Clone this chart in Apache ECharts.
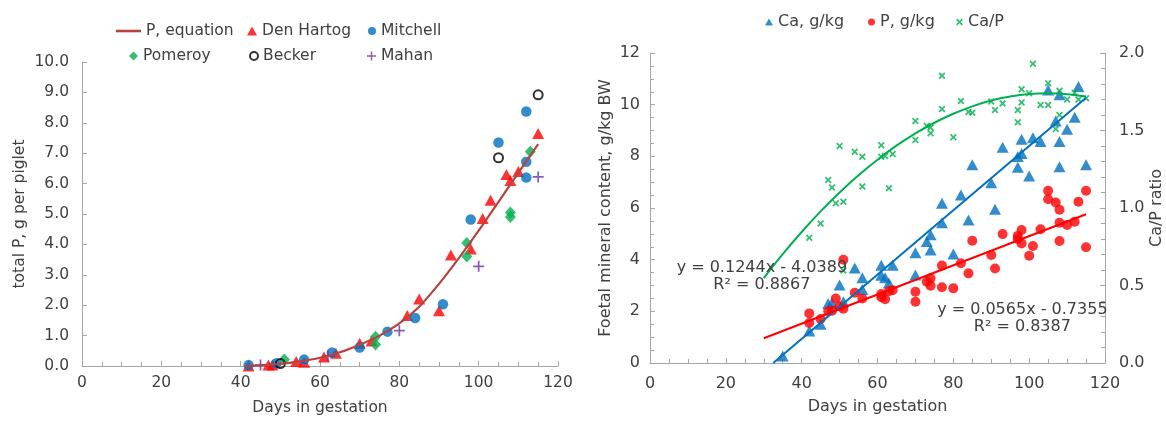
<!DOCTYPE html>
<html>
<head>
<meta charset="utf-8">
<script src="https://cdn.jsdelivr.net/npm/echarts@6/dist/echarts.min.js"></script>
<style>
  html, body { margin: 0; padding: 0; background: #ffffff; }
  #chart { width: 1166px; height: 426px; }
</style>
</head>
<body>
<div id="chart"></div>
<script>
// ---------- Left panel: total P per piglet vs days in gestation ----------
const pCurveDays   = [41, 45, 50, 55, 60, 65, 70, 75, 80, 85, 90, 95, 100, 105, 110, 115];
const pCurveValues = [0, 0.02, 0.07, 0.15, 0.27, 0.45, 0.7, 1.0, 1.4, 1.95, 2.7, 3.55, 4.45, 5.4, 6.35, 7.3];

const denHartog = [[42, 0.0], [47, 0.03], [48, 0.03], [54, 0.15], [56, 0.12], [61, 0.3], [64, 0.42],
  [70, 0.75], [73, 0.82], [82, 1.66], [85, 2.2], [90, 1.82], [93, 3.65], [98, 3.85], [101, 4.85],
  [103, 5.45], [107, 6.3], [108, 6.1], [110, 6.4], [115, 7.65]];
const mitchell = [[42, 0.03], [49, 0.09], [56, 0.21], [63, 0.44], [70, 0.61], [77, 1.13], [84, 1.58],
  [91, 2.03], [98, 4.82], [105, 7.35], [112, 8.37], [112, 6.72], [112, 6.2]];
const pomeroy = [[51, 0.21], [74, 0.96], [74, 0.71], [97, 4.05], [97, 3.6], [108, 5.05], [108, 4.9], [113, 7.05]];
const becker = [[50, 0.08], [105, 6.85], [115, 8.92]];
const mahan = [[45, 0.03], [62, 0.33], [80, 1.16], [100, 3.28], [115, 6.22]];

// ---------- Right panel: foetal Ca, P (g/kg BW) and Ca/P ratio ----------
const caPoints = [[35, 0.27], [42, 1.24], [45, 1.5], [47, 2.3], [48, 2.32], [50, 3.02], [51, 2.37],
  [54, 3.68], [56, 3.3], [56, 2.85], [61, 3.78], [61, 3.4], [62, 3.3], [63, 3.1], [64, 3.78],
  [70, 4.27], [70, 3.41], [73, 4.7], [74, 4.96], [74, 4.37], [77, 5.43], [77, 6.18], [80, 4.22],
  [82, 6.5], [84, 5.54], [85, 7.67], [90, 6.98], [91, 5.95], [93, 8.35], [97, 7.99], [97, 7.58],
  [98, 8.11], [98, 8.66], [100, 7.24], [101, 8.72], [103, 8.57], [105, 10.57], [107, 9.37],
  [108, 10.38], [108, 8.57], [108, 7.6], [110, 9.05], [112, 9.51], [113, 10.7], [115, 7.67]];
const pPoints = [[42, 1.92], [42, 1.55], [45, 1.7], [47, 2.0], [48, 2.02], [49, 2.5], [50, 2.2],
  [51, 2.1], [51, 4.0], [54, 2.72], [56, 2.5], [61, 2.67], [61, 2.55], [62, 2.47], [63, 2.78],
  [64, 2.82], [70, 2.76], [70, 2.37], [73, 3.15], [74, 3.28], [74, 2.99], [77, 3.77], [77, 2.93],
  [80, 2.89], [82, 3.86], [84, 3.47], [85, 4.73], [90, 4.18], [91, 3.66], [93, 4.99], [97, 4.92],
  [97, 4.8], [98, 5.15], [98, 4.63], [100, 4.15], [101, 4.53], [103, 5.18], [105, 6.67], [105, 6.34],
  [107, 6.21], [108, 5.93], [108, 5.43], [108, 4.72], [110, 5.34], [112, 5.47], [113, 6.24],
  [115, 6.67], [115, 4.48]];
const caPRatio = [[42, 0.808], [45, 0.9], [47, 1.18], [48, 1.133], [49, 1.03], [50, 1.4], [51, 1.04],
  [51, 0.596], [54, 1.363], [56, 1.331], [56, 1.138], [61, 1.405], [61, 1.331], [62, 1.335],
  [63, 1.127], [64, 1.349], [70, 1.562], [70, 1.439], [73, 1.53], [74, 1.52], [74, 1.482],
  [77, 1.854], [77, 1.639], [80, 1.456], [82, 1.69], [84, 1.62], [85, 1.615], [90, 1.687],
  [91, 1.632], [93, 1.675], [97, 1.632], [97, 1.553], [98, 1.766], [98, 1.68], [100, 1.74],
  [101, 1.93], [103, 1.665], [105, 1.805], [105, 1.665], [107, 1.51], [108, 1.757], [108, 1.6],
  [110, 1.7], [112, 1.743], [113, 1.7], [115, 1.708]];

// Linear trend lines (end points from the printed equations)
const caTrend = [[32.5, 0], [115, 10.27]];
const pTrend = [[30, 0.96], [115, 5.76]];
const caTrendText = 'y = 0.1244x - 4.0389\nR² = 0.8867';
const pTrendText = 'y = 0.0565x - 0.7355\nR² = 0.8387';
const caTrendLabelAt = [29.5, 3.37];
const pTrendLabelAt = [98.2, 1.71];

// Polynomial trend of the Ca/P ratio
const ratioTrendDays   = [30, 35, 40, 45, 50, 55, 60, 65, 70, 75, 80, 85, 90, 95, 100, 105, 110, 115];
const ratioTrendValues = [0.548, 0.702, 0.845, 0.978, 1.1, 1.211, 1.311, 1.402, 1.481, 1.55, 1.608,
  1.656, 1.693, 1.719, 1.735, 1.74, 1.734, 1.719];

// Tick labels
const xTicks = [0, 20, 40, 60, 80, 100, 120];
const leftYTicks = [0, 1, 2, 3, 4, 5, 6, 7, 8, 9, 10];
const rightYTicks = [0, 2, 4, 6, 8, 10, 12];
const ratioTicks = [0, 0.5, 1.0, 1.5, 2.0];

const zip = (xs, ys) => xs.map((x, i) => [x, ys[i]]);

const FONT = 'DejaVu Sans';
const TXT = '#404040';
const AXIS = '#a6a6a6';
const PLUS = 'path://M4.2,0H5.8V4.2H10V5.8H5.8V10H4.2V5.8H0V4.2H4.2Z';
const CROSS = 'path://M0,1.8L1.8,0L5,3.2L8.2,0L10,1.8L6.8,5L10,8.2L8.2,10L5,6.8L1.8,10L0,8.2L3.2,5Z';
const LINE_ICON = 'path://M0,0H25V2.6H0Z';

function axisBase(fs, min, max, interval, dec, minorSplit, labelMargin) {
  return {
    type: 'value', min: min, max: max, interval: interval,
    axisLine: { show: true, lineStyle: { color: AXIS, width: 1 } },
    axisTick: { show: true, inside: true, length: 5, lineStyle: { color: AXIS } },
    minorTick: { show: minorSplit > 0, splitNumber: minorSplit || 5, length: 4, lineStyle: { color: AXIS } },
    splitLine: { show: false },
    axisLabel: {
      color: TXT, fontSize: fs, fontFamily: FONT, margin: labelMargin,
      formatter: v => dec ? v.toFixed(dec) : String(v)
    },
    nameTextStyle: { color: TXT, fontSize: fs, fontFamily: FONT }
  };
}

function legendItem(name, icon, left, top, w, h, fs) {
  return {
    left: left, top: top, padding: 0, itemWidth: w, itemHeight: h, selectedMode: false,
    textStyle: { color: TXT, fontSize: fs, fontFamily: FONT, lineHeight: 18 },
    data: [icon ? { name: name, icon: icon } : { name: name }]
  };
}

const chart = echarts.init(document.getElementById('chart'), null, { renderer: 'canvas' });

chart.setOption({
  animation: false,
  backgroundColor: '#ffffff',
  grid: [
    { left: 82, top: 62, width: 476, height: 304 },
    { left: 650, top: 53, width: 457, height: 310 }
  ],
  legend: [
    legendItem('P, equation', LINE_ICON, 116, 22, 25, 3, 15.5),
    legendItem('Den Hartog', 'triangle', 247, 22, 10, 9, 15.5),
    legendItem('Mitchell', 'circle', 368, 22, 8, 8, 15.5),
    legendItem('Pomeroy', 'diamond', 129, 47, 9, 9, 15.5),
    legendItem('Becker', 'circle', 249, 47, 8, 8, 15.5),
    legendItem('Mahan', PLUS, 367, 47, 9, 9, 15.5),
    legendItem('Ca, g/kg', 'triangle', 765, 13, 8, 7, 16),
    legendItem('P, g/kg', 'circle', 868, 13, 7, 7, 16),
    legendItem('Ca/P', CROSS, 956, 13, 7, 7, 16)
  ],
  xAxis: [
    Object.assign(axisBase(15.5, xTicks[0], xTicks[xTicks.length - 1], 20, 0, 4, 9), {
      gridIndex: 0, name: 'Days in gestation', nameLocation: 'middle', nameGap: 34
    }),
    Object.assign(axisBase(16, xTicks[0], xTicks[xTicks.length - 1], 20, 0, 4, 13), {
      gridIndex: 1, name: 'Days in gestation', nameLocation: 'middle', nameGap: 36
    })
  ],
  yAxis: [
    Object.assign(axisBase(15.5, leftYTicks[0], leftYTicks[leftYTicks.length - 1], 1, 1, 0, 13), {
      gridIndex: 0, name: 'total P, g per piglet', nameLocation: 'middle', nameGap: 54, nameRotate: 90
    }),
    Object.assign(axisBase(16, rightYTicks[0], rightYTicks[rightYTicks.length - 1], 2, 0, 4, 10), {
      gridIndex: 1, name: 'Foetal mineral content, g/kg BW', nameLocation: 'middle', nameGap: 36, nameRotate: 90
    }),
    Object.assign(axisBase(16, ratioTicks[0], ratioTicks[ratioTicks.length - 1], 0.5, 1, 5, 14), {
      gridIndex: 1, position: 'right', name: 'Ca/P ratio', nameLocation: 'middle', nameGap: 44, nameRotate: 90
    })
  ],
  series: [
    // ----- left panel -----
    { name: 'Den Hartog', type: 'scatter', xAxisIndex: 0, yAxisIndex: 0, data: denHartog,
      symbol: 'triangle', symbolSize: [12, 11], itemStyle: { color: '#ff0000' }, z: 2 },
    { name: 'Mitchell', type: 'scatter', xAxisIndex: 0, yAxisIndex: 0, data: mitchell,
      symbol: 'circle', symbolSize: 10.5, itemStyle: { color: '#0070c0' }, z: 2 },
    { name: 'Pomeroy', type: 'scatter', xAxisIndex: 0, yAxisIndex: 0, data: pomeroy,
      symbol: 'diamond', symbolSize: [11, 12], itemStyle: { color: '#00b050' }, z: 2 },
    { name: 'Becker', type: 'scatter', xAxisIndex: 0, yAxisIndex: 0, data: becker,
      symbol: 'circle', symbolSize: 9,
      itemStyle: { color: 'rgba(255,255,255,0)', borderColor: '#000000', borderWidth: 2 }, z: 2 },
    { name: 'Mahan', type: 'scatter', xAxisIndex: 0, yAxisIndex: 0, data: mahan,
      symbol: PLUS, symbolSize: 11, itemStyle: { color: '#7030a0' }, z: 2 },
    { name: 'P, equation', type: 'line', xAxisIndex: 0, yAxisIndex: 0,
      data: zip(pCurveDays, pCurveValues), smooth: 0.3, symbol: 'none',
      lineStyle: { color: '#b5443f', width: 2.2 }, itemStyle: { color: '#b5443f' }, z: 3 },

    // ----- right panel -----
    { name: 'Ca, g/kg', type: 'scatter', xAxisIndex: 1, yAxisIndex: 1, data: caPoints,
      symbol: 'triangle', symbolSize: [12, 11], itemStyle: { color: '#0070c0' }, z: 2 },
    { name: 'P, g/kg', type: 'scatter', xAxisIndex: 1, yAxisIndex: 1, data: pPoints,
      symbol: 'circle', symbolSize: 10, itemStyle: { color: '#ff0000' }, z: 2 },
    { name: 'Ca/P', type: 'scatter', xAxisIndex: 1, yAxisIndex: 2, data: caPRatio,
      symbol: CROSS, symbolSize: 7, itemStyle: { color: '#00b050' }, z: 2 },
    { name: 'Ca trend', type: 'line', xAxisIndex: 1, yAxisIndex: 1, data: caTrend,
      symbol: 'none', lineStyle: { color: '#0070c0', width: 2 }, z: 3,
      markPoint: {
        symbol: 'circle', symbolSize: 1, itemStyle: { color: 'rgba(0,0,0,0)' },
        label: { show: true, position: 'inside', formatter: caTrendText, color: TXT,
          fontSize: 16, fontFamily: FONT, lineHeight: 17, align: 'center' },
        data: [{ coord: caTrendLabelAt }]
      } },
    { name: 'P trend', type: 'line', xAxisIndex: 1, yAxisIndex: 1, data: pTrend,
      symbol: 'none', lineStyle: { color: '#ff0000', width: 2 }, z: 3,
      markPoint: {
        symbol: 'circle', symbolSize: 1, itemStyle: { color: 'rgba(0,0,0,0)' },
        label: { show: true, position: 'inside', formatter: pTrendText, color: TXT,
          fontSize: 16, fontFamily: FONT, lineHeight: 17, align: 'center' },
        data: [{ coord: pTrendLabelAt }]
      } },
    { name: 'Ca/P trend', type: 'line', xAxisIndex: 1, yAxisIndex: 2,
      data: zip(ratioTrendDays, ratioTrendValues), smooth: 0.3, symbol: 'none',
      lineStyle: { color: '#00b050', width: 2 }, z: 3 }
  ]
});
</script>
</body>
</html>
